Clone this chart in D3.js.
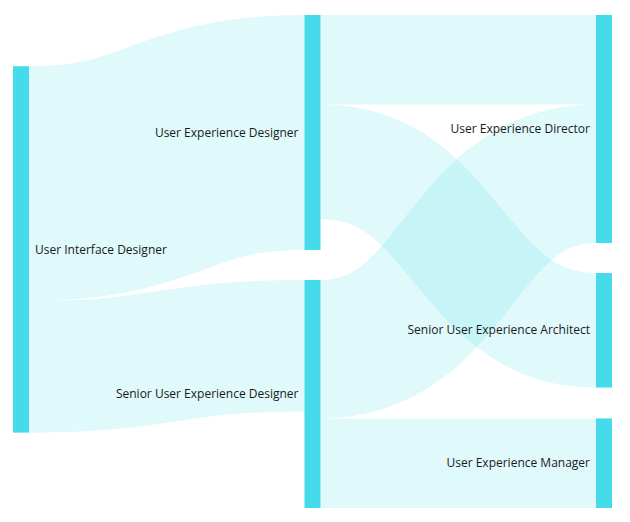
<!DOCTYPE html>
<html>
<head>
<meta charset="utf-8">
<script src="https://cdn.jsdelivr.net/npm/d3@7"></script>
<style>
  body { margin: 0; background: #fff; }
  text { font-family: "Open Sans", sans-serif; font-size: 12px; fill: #1a1a1a; }
</style>
</head>
<body>
<div id="chart"></div>
<script>
// career paths: node names and the flows between them (by node index)
var nodeNames = [
  'User Interface Designer',
  'User Experience Designer',
  'Senior User Experience Designer',
  'User Experience Director',
  'Senior User Experience Architect',
  'User Experience Manager'
];
var linkSources = [0, 0, 1, 1, 2, 2];
var linkTargets = [1, 2, 3, 4, 3, 5];
var linkValues  = [236, 132, 90, 115, 139, 90];

var width = 630, height = 522;
var ext = {x0: 13, x1: 612, y0: 15, y1: 508},
    nodeWidth = 16,
    py = 30,
    iterations = 1,
    relaxStrength = 0.23; // only a gentle pull toward linked nodes

var nodes = nodeNames.map(function(name, i) {
  return {name: name, index: i, sourceLinks: [], targetLinks: []};
});
var links = linkValues.map(function(v, i) {
  return {source: nodes[linkSources[i]], target: nodes[linkTargets[i]], value: v, index: i};
});
links.forEach(function(l) {
  l.source.sourceLinks.push(l);
  l.target.targetLinks.push(l);
});
nodes.forEach(function(n) {
  n.value = Math.max(d3.sum(n.sourceLinks, function(l) { return l.value; }),
                     d3.sum(n.targetLinks, function(l) { return l.value; }));
  n.depth = 0;
});

// ---- depths / layers (justify) ----
for (var k = 0; k < nodes.length; k++) {
  links.forEach(function(l) {
    if (l.target.depth < l.source.depth + 1) l.target.depth = l.source.depth + 1;
  });
}
var maxDepth = d3.max(nodes, function(n) { return n.depth; });
nodes.forEach(function(n) { n.layer = n.sourceLinks.length ? n.depth : maxDepth; });

var x = d3.scaleLinear().domain([0, maxDepth]).range([ext.x0, ext.x1 - nodeWidth]);
var columns = d3.range(maxDepth + 1).map(function(c) {
  return nodes.filter(function(n) { return n.layer === c; });
});
nodes.forEach(function(n) { n.x0 = x(n.layer); n.x1 = n.x0 + nodeWidth; });

function ascendingBreadth(a, b) { return a.y0 - b.y0; }
function ascendingSourceBreadth(a, b) { return ascendingBreadth(a.source, b.source) || a.index - b.index; }
function ascendingTargetBreadth(a, b) { return ascendingBreadth(a.target, b.target) || a.index - b.index; }

function reorderNodeLinks(node) {
  node.sourceLinks.forEach(function(l) { l.target.targetLinks.sort(ascendingSourceBreadth); });
  node.targetLinks.forEach(function(l) { l.source.sourceLinks.sort(ascendingTargetBreadth); });
}
function reorderLinks(ns) {
  ns.forEach(function(n) {
    n.sourceLinks.sort(ascendingTargetBreadth);
    n.targetLinks.sort(ascendingSourceBreadth);
  });
}

// value -> pixels
var ky = d3.min(columns, function(c) {
  return (ext.y1 - ext.y0 - (c.length - 1) * py) / d3.sum(c, function(n) { return n.value; });
});
var hScale = d3.scaleLinear().domain([0, 1]).range([0, ky]);

columns.forEach(function(col) {
  var y = ext.y0;
  col.forEach(function(n) {
    n.y0 = y;
    n.y1 = y + hScale(n.value);
    y = n.y1 + py;
    n.sourceLinks.forEach(function(l) { l.width = hScale(l.value); });
  });
  y = (ext.y1 - y + py) / (col.length + 1);
  col.forEach(function(n, i) { n.y0 += y * (i + 1); n.y1 += y * (i + 1); });
  reorderLinks(col);
});

function targetTop(source, target) {
  var y = source.y0 - (source.sourceLinks.length - 1) * py / 2;
  for (var i = 0; i < source.sourceLinks.length; i++) {
    var l = source.sourceLinks[i];
    if (l.target === target) break;
    y += l.width + py;
  }
  for (var j = 0; j < target.targetLinks.length; j++) {
    var m = target.targetLinks[j];
    if (m.source === source) break;
    y -= m.width;
  }
  return y;
}
function sourceTop(source, target) {
  var y = target.y0 - (target.targetLinks.length - 1) * py / 2;
  for (var i = 0; i < target.targetLinks.length; i++) {
    var l = target.targetLinks[i];
    if (l.source === source) break;
    y += l.width + py;
  }
  for (var j = 0; j < source.sourceLinks.length; j++) {
    var m = source.sourceLinks[j];
    if (m.target === target) break;
    y -= m.width;
  }
  return y;
}

function pushDown(ns, y, i, a) {
  for (; i < ns.length; ++i) {
    var dy = (y - ns[i].y0) * a;
    if (dy > 1e-6) { ns[i].y0 += dy; ns[i].y1 += dy; }
    y = ns[i].y1 + py;
  }
}
function pushUp(ns, y, i, a) {
  for (; i >= 0; --i) {
    var dy = (ns[i].y1 - y) * a;
    if (dy > 1e-6) { ns[i].y0 -= dy; ns[i].y1 -= dy; }
    y = ns[i].y0 - py;
  }
}
function resolveCollisions(ns, a) {
  var i = ns.length >> 1, s = ns[i];
  pushUp(ns, s.y0 - py, i - 1, a);
  pushDown(ns, s.y1 + py, i + 1, a);
  pushUp(ns, ext.y1, ns.length - 1, a);
  pushDown(ns, ext.y0, 0, a);
}

function relaxLeftToRight(alpha, beta) {
  for (var i = 1; i < columns.length; i++) {
    columns[i].forEach(function(t) {
      var y = 0, w = 0;
      t.targetLinks.forEach(function(l) {
        var v = l.value * (t.layer - l.source.layer);
        y += targetTop(l.source, t) * v;
        w += v;
      });
      if (!(w > 0)) return;
      var dy = (y / w - t.y0) * alpha;
      t.y0 += dy; t.y1 += dy;
      reorderNodeLinks(t);
    });
    columns[i].sort(ascendingBreadth);
    resolveCollisions(columns[i], beta);
  }
}
function relaxRightToLeft(alpha, beta) {
  for (var i = columns.length - 2; i >= 0; i--) {
    columns[i].forEach(function(s) {
      var y = 0, w = 0;
      s.sourceLinks.forEach(function(l) {
        var v = l.value * (l.target.layer - s.layer);
        y += sourceTop(s, l.target) * v;
        w += v;
      });
      if (!(w > 0)) return;
      var dy = (y / w - s.y0) * alpha;
      s.y0 += dy; s.y1 += dy;
      reorderNodeLinks(s);
    });
    columns[i].sort(ascendingBreadth);
    resolveCollisions(columns[i], beta);
  }
}

for (var it = 0; it < iterations; it++) {
  var alpha = relaxStrength * Math.pow(0.99, it),
      beta = Math.max(1 - alpha, (it + 1) / iterations);
  relaxRightToLeft(alpha, beta);
  relaxLeftToRight(alpha, beta);
}

// link breadths
nodes.forEach(function(n) {
  n.sourceLinks.sort(ascendingTargetBreadth);
  n.targetLinks.sort(ascendingSourceBreadth);
  var a = n.y0, b = n.y0;
  n.sourceLinks.forEach(function(l) { l.y0 = a + l.width / 2; a += l.width; });
  n.targetLinks.forEach(function(l) { l.y1 = b + l.width / 2; b += l.width; });
});

// ---- draw ----
var svg = d3.select('#chart')
  .append('svg')
    .attr('width', width)
    .attr('height', height);

// horizontal link: a thick stroked bezier through the link centres
var linkPath = d3.linkHorizontal()
  .source(function(l) { return [l.source.x1, l.y0]; })
  .target(function(l) { return [l.target.x0, l.y1]; });

svg.append('g')
  .selectAll('path')
  .data(links)
  .enter()
    .append('path')
      .attr('d', linkPath)
      .style('fill', 'none')
      .style('stroke', '#45dbea')
      .style('stroke-opacity', 0.17)
      .style('stroke-width', function(d) { return Math.max(1, d.width); });

svg.append('g')
  .selectAll('rect')
  .data(nodes)
  .enter()
    .append('rect')
      .attr('x', function(d) { return d.x0; })
      .attr('y', function(d) { return d.y0; })
      .attr('width', function(d) { return d.x1 - d.x0; })
      .attr('height', function(d) { return d.y1 - d.y0; })
      .style('fill', '#45dbea');

svg.append('g')
  .selectAll('text')
  .data(nodes)
  .enter()
    .append('text')
      .attr('x', function(d) { return d.layer === 0 ? d.x1 + 6 : d.x0 - 6; })
      .attr('y', function(d) { return (d.y0 + d.y1) / 2; })
      .attr('dy', '0.35em')
      .attr('text-anchor', function(d) { return d.layer === 0 ? 'start' : 'end'; })
      .text(function(d) { return d.name; });
</script>
</body>
</html>
